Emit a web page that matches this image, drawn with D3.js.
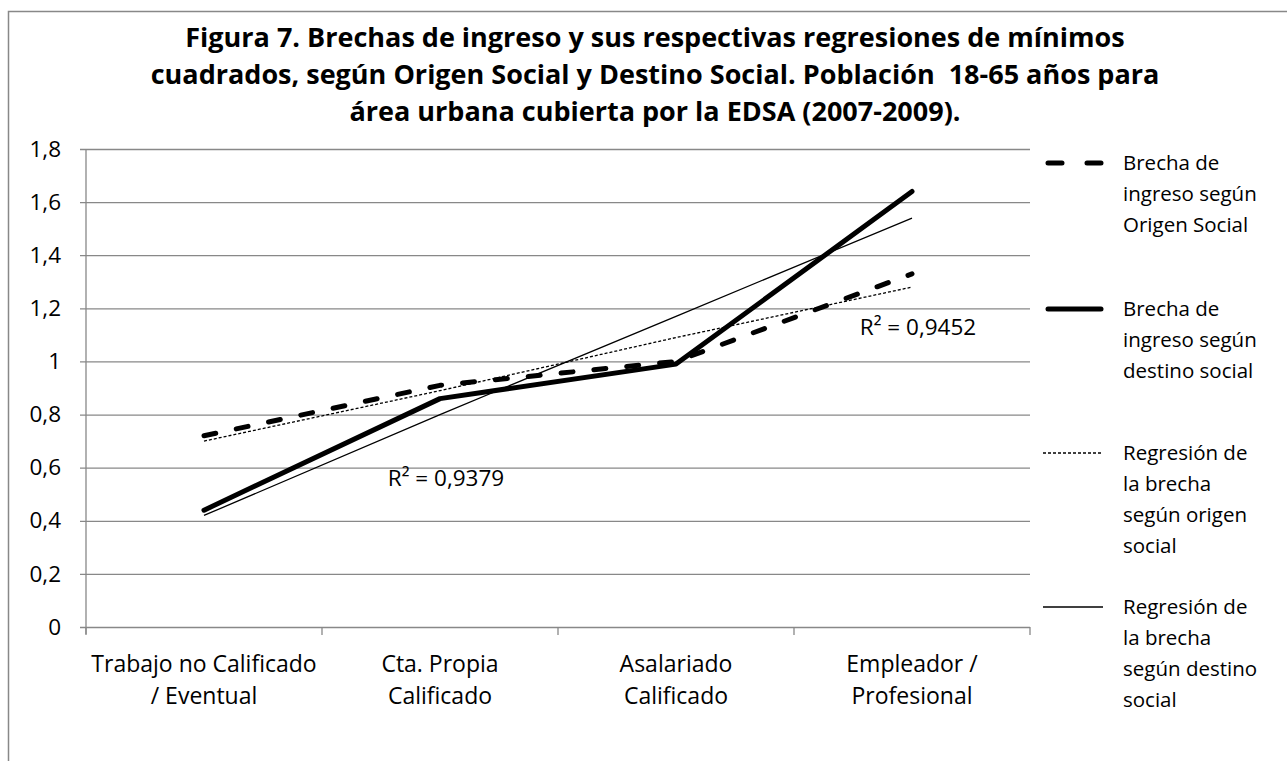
<!DOCTYPE html>
<html>
<head>
<meta charset="utf-8">
<script src="https://cdn.jsdelivr.net/npm/d3@7"></script>
<style>
  body { margin: 0; background: #fff; }
  text { font-family: "Open Sans", "Noto Sans", sans-serif; fill: #000; }
</style>
</head>
<body>
<svg id="chart" width="1287" height="761"></svg>
<script>
// Chart data
const categories = [
  ["Trabajo no Calificado", "/ Eventual"],
  ["Cta. Propia", "Calificado"],
  ["Asalariado", "Calificado"],
  ["Empleador /", "Profesional"]
];
const brechaOrigen = [0.72, 0.91, 1.00, 1.33];
const brechaDestino = [0.44, 0.86, 0.99, 1.64];
const regresionOrigen = [0.70, 0.89, 1.09, 1.28];
const regresionDestino = [0.42, 0.80, 1.17, 1.54];
const yTicks = [0, 0.2, 0.4, 0.6, 0.8, 1, 1.2, 1.4, 1.6, 1.8];
const titleLines = [
  "Figura 7. Brechas de ingreso y sus respectivas regresiones de mínimos",
  "cuadrados, según Origen Social y Destino Social. Población  18-65 años para",
  "área urbana cubierta por la EDSA (2007-2009)."
];
const r2Labels = [
  { text: "R² = 0,9379", cat: 1, value: 0.53 },
  { text: "R² = 0,9452", cat: 3, value: 1.10 }
];
const legendItems = [
  { lines: ["Brecha de", "ingreso según", "Origen Social"], style: "origen" },
  { lines: ["Brecha de", "ingreso según", "destino social"], style: "destino" },
  { lines: ["Regresión de", "la brecha", "según origen", "social"], style: "regOrigen" },
  { lines: ["Regresión de", "la brecha", "según destino", "social"], style: "regDestino" }
];

const svg = d3.select("#chart");
const margin = { top: 149, left: 86, right: 1030, bottom: 627 };
const gridColor = "#888888";

// line styles per series
const styles = {
  origen: { width: 5, dash: "12 21", cap: "round" },
  destino: { width: 5, dash: null, cap: "round" },
  regOrigen: { width: 1.3, dash: "3 2", cap: "butt" },
  regDestino: { width: 1.3, dash: null, cap: "butt" }
};

// outer frame
svg.append("path")
  .attr("d", "M8.5,761 V11.5 H1287")
  .attr("fill", "none")
  .attr("stroke", gridColor)
  .attr("stroke-width", 1.5);

// Title
svg.append("g")
  .selectAll("text")
  .data(titleLines)
  .join("text")
  .attr("x", 655)
  .attr("y", (d, i) => 47 + i * 37)
  .attr("text-anchor", "middle")
  .style("font-size", "27px")
  .style("font-weight", "bold")
  .style("white-space", "pre")
  .text(d => d);

// Scales
const x = d3.scaleBand()
  .domain(d3.range(categories.length))
  .range([margin.left, margin.right]);

const y = d3.scaleLinear()
  .domain([0, 1.8])
  .range([margin.bottom, margin.top]);

const cx = i => x(i) + x.bandwidth() / 2;

// gridlines + y axis
const yAxis = d3.axisLeft(y)
  .tickValues(yTicks)
  .tickSize(-(margin.right - margin.left))
  .tickFormat(d => String(d).replace(".", ","));

const gy = svg.append("g")
  .attr("transform", `translate(${margin.left},0)`)
  .call(yAxis);
gy.select(".domain").remove();
gy.selectAll(".tick line")
  .attr("x1", -6)
  .attr("stroke", gridColor)
  .attr("stroke-width", 1.3);
gy.selectAll(".tick text")
  .style("font-size", "22.5px")
  .style("font-family", "'Open Sans', sans-serif")
  .attr("x", -25);

// vertical axis line
svg.append("line")
  .attr("x1", margin.left).attr("x2", margin.left)
  .attr("y1", margin.top).attr("y2", margin.bottom + 7)
  .attr("stroke", gridColor)
  .attr("stroke-width", 1.3);

// category ticks on x axis
svg.append("g")
  .selectAll("line")
  .data(d3.range(categories.length + 1))
  .join("line")
  .attr("x1", d => margin.left + d * x.bandwidth())
  .attr("x2", d => margin.left + d * x.bandwidth())
  .attr("y1", margin.bottom)
  .attr("y2", margin.bottom + 8)
  .attr("stroke", gridColor)
  .attr("stroke-width", 1.3);

// category labels
const catLabels = svg.append("g")
  .selectAll("text")
  .data(categories)
  .join("text")
  .attr("text-anchor", "middle")
  .style("font-size", "23px");
catLabels.selectAll("tspan")
  .data((d, i) => d.map(t => ({ t, i })))
  .join("tspan")
  .attr("x", d => cx(d.i))
  .attr("y", (d, j) => 672 + j * 32)
  .text(d => d.t);

// series
const line = d3.line()
  .x((d, i) => cx(i))
  .y(d => y(d));

function drawSeries(values, key) {
  const s = styles[key];
  svg.append("path")
    .datum(values)
    .attr("fill", "none")
    .attr("stroke", "#000")
    .attr("stroke-width", s.width)
    .attr("stroke-linecap", s.cap)
    .attr("stroke-linejoin", "round")
    .attr("stroke-dasharray", s.dash)
    .attr("d", line);
}

drawSeries(regresionOrigen, "regOrigen");
drawSeries(regresionDestino, "regDestino");
drawSeries(brechaOrigen, "origen");
drawSeries(brechaDestino, "destino");

// R² labels
svg.append("g")
  .selectAll("text")
  .data(r2Labels)
  .join("text")
  .attr("x", d => cx(d.cat) + 6)
  .attr("y", d => y(d.value))
  .attr("text-anchor", "middle")
  .style("font-size", "22.5px")
  .text(d => d.text);

// Legend
const legendTop = [163, 309, 453, 607];
const legend = svg.append("g");
legendItems.forEach((item, k) => {
  const s = styles[item.style];
  const ly = legendTop[k];
  legend.append("line")
    .attr("x1", s.cap === "round" ? 1048 : 1043)
    .attr("x2", s.cap === "round" ? 1101 : 1103)
    .attr("y1", ly).attr("y2", ly)
    .attr("stroke", "#000")
    .attr("stroke-width", s.width)
    .attr("stroke-linecap", s.cap)
    .attr("stroke-dasharray", s.dash ? (item.style === "origen" ? "14 25" : s.dash) : null);
  legend.append("text")
    .style("font-size", "20.5px")
    .selectAll("tspan")
    .data(item.lines)
    .join("tspan")
    .attr("x", 1123)
    .attr("y", (d, j) => ly + 7 + j * 31)
    .text(d => d);
});
</script>
</body>
</html>
